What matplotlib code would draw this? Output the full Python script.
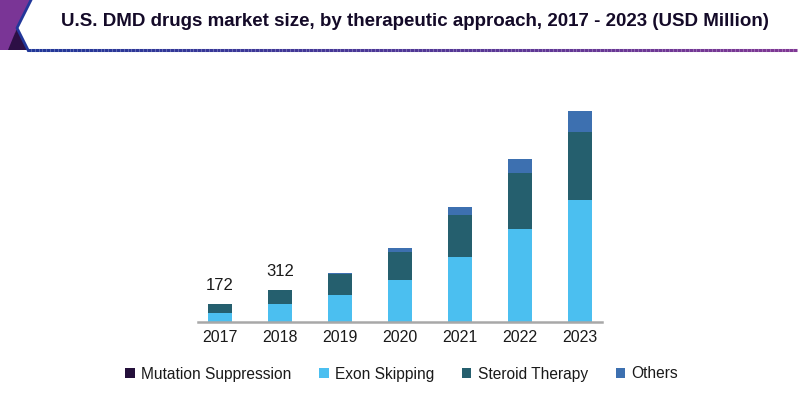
import numpy as np
import matplotlib.pyplot as plt
from matplotlib.patches import Polygon
from matplotlib.collections import LineCollection

plt.rcParams['font.family'] = ['Liberation Sans', 'DejaVu Sans']

years = ['2017', '2018', '2019', '2020', '2021', '2022', '2023']
mutation_suppression = [0, 0, 0, 0, 0, 0, 0]
exon_skipping = [82, 175, 265, 415, 648, 925, 1215]
steroid_therapy = [90, 137, 215, 285, 417, 563, 677]
others = [0, 0, 10, 34, 83, 134, 216]
total_labels = {0: '172', 1: '312'}

series = [
    ('Mutation Suppression', mutation_suppression, '#24103a'),
    ('Exon Skipping', exon_skipping, '#4bbff0'),
    ('Steroid Therapy', steroid_therapy, '#255f6e'),
    ('Others', others, '#3d70b0'),
]

W, H = 800, 393
fig = plt.figure(figsize=(W / 100, H / 100), dpi=100)

# header decoration in pixel coordinates
deco = fig.add_axes([0, 0, 1, 1])
deco.set_xlim(0, W)
deco.set_ylim(H, 0)
deco.axis('off')
deco.add_patch(Polygon([(0, 0), (31, 0), (17, 28), (10, 50), (0, 50)],
                       closed=True, color='#7a3596', lw=0))
deco.add_patch(Polygon([(17, 28), (28, 50), (8, 50)], closed=True,
                       color='#2c0f45', lw=0))
deco.plot([31, 17, 28], [0, 28, 50], color='#22379a', lw=2)
xs = np.linspace(27, 797, 200)
segs = [[(xs[i], 50), (xs[i + 1], 50)] for i in range(len(xs) - 1)]
c0 = np.array([0.13, 0.22, 0.60])
c1 = np.array([0.50, 0.22, 0.58])
cols = [tuple(c0 + (c1 - c0) * t) for t in np.linspace(0, 1, len(segs))]
deco.add_collection(LineCollection(segs, colors=cols, linewidths=2.2))

fig.text(0.519, 1 - 21 / H, 'U.S. DMD drugs market size, by therapeutic approach, 2017 - 2023 (USD Million)',
         ha='center', va='center', fontsize=13.5, fontweight='bold', color='#140a28')

ax = fig.add_axes([198 / W, (H - 321.5) / H, 404 / W, 220 / H])
x = np.arange(len(years))
bottom = np.zeros(len(years))
for name, vals, color in series:
    ax.bar(x, vals, 0.4, bottom=bottom, color=color, label=name)
    bottom += np.array(vals)

for i, txt in total_labels.items():
    ax.text(x[i], bottom[i] + 110, txt, ha='center', va='bottom', fontsize=12, color='#1a1a1a')

ax.set_xlim(-0.367, len(years) - 1 + 0.367)
ax.set_ylim(0, 2200)
ax.set_xticks(x)
ax.set_xticklabels(years, fontsize=11.5, color='#1a1a1a')
ax.tick_params(axis='x', length=0, pad=6)
ax.set_yticks([])
for s in ['top', 'right', 'left']:
    ax.spines[s].set_visible(False)
ax.spines['bottom'].set_color('#a8a8a8')
ax.spines['bottom'].set_linewidth(1.8)

handles, labels = ax.get_legend_handles_labels()
fig.legend(handles, labels, loc='center', bbox_to_anchor=(0.502, 1 - 374 / H), ncol=4,
           frameon=False, fontsize=11.2, handlelength=0.6, handleheight=0.6,
           handletextpad=0.4, columnspacing=1.8, labelcolor='#1a1a1a')

fig.savefig('out.png', dpi=100)
